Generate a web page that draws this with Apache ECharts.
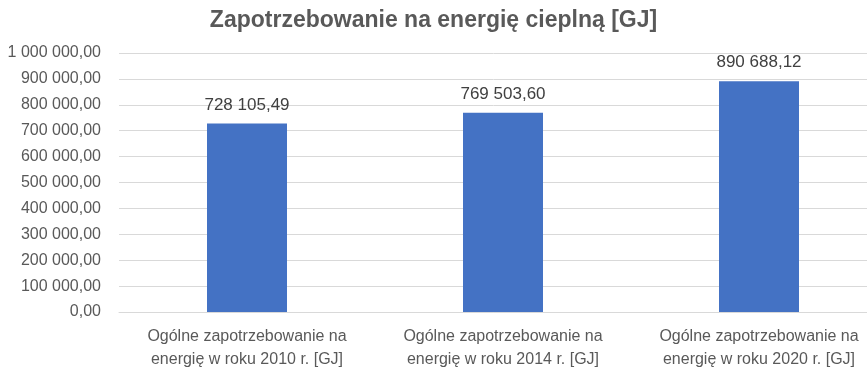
<!DOCTYPE html>
<html><head><meta charset="utf-8">
<script src="https://cdn.jsdelivr.net/npm/echarts@6/dist/echarts.min.js"></script>
<style>html,body{margin:0;padding:0;background:#fff}#c{width:867px;height:368px}</style>
</head><body><div id="c"></div>
<script>
const categories = [
  "Ogólne zapotrzebowanie na energię w roku 2010 r. [GJ]",
  "Ogólne zapotrzebowanie na energię w roku 2014 r. [GJ]",
  "Ogólne zapotrzebowanie na energię w roku 2020 r. [GJ]"
];
const values = [728105.49, 769503.60, 890688.12];
const yTicks = [0, 100000, 200000, 300000, 400000, 500000, 600000, 700000, 800000, 900000, 1000000];

const FONT = "'Liberation Sans Narrow', 'Liberation Sans', sans-serif";
function fmt(v) {
  const parts = v.toFixed(2).split('.');
  const intPart = parts[0].replace(/\B(?=(\d{3})+(?!\d))/g, ' ');
  return intPart + ',' + parts[1];
}
const chart = echarts.init(document.getElementById('c'));
chart.setOption({
  animation: false,
  title: {
    text: 'Zapotrzebowanie na energię cieplną [GJ]',
    left: 'center', top: 4,
    textStyle: { fontFamily: FONT, fontSize: 23, fontWeight: 'bold', color: '#595959' }
  },
  grid: { left: 119, width: 768, top: 53, bottom: 56, containLabel: false, outerBoundsMode: 'none' },
  xAxis: {
    type: 'category', data: categories,
    axisLine: { lineStyle: { color: '#d9d9d9' } },
    axisTick: { show: false },
    axisLabel: {
      interval: 0,
      fontFamily: FONT, fontSize: 16, color: '#595959', lineHeight: 23, margin: 13,
      formatter: s => s.replace(' energię', '\nenergię')
    }
  },
  yAxis: {
    type: 'value', min: yTicks[0], max: yTicks[yTicks.length - 1], interval: yTicks[1] - yTicks[0],
    axisLine: { show: false }, axisTick: { show: false },
    splitLine: { lineStyle: { color: '#d9d9d9' } },
    axisLabel: { fontFamily: FONT, fontSize: 16, color: '#595959', margin: 18, formatter: v => fmt(v) }
  },
  series: [{
    type: 'bar', data: values, barWidth: 80,
    itemStyle: { color: '#4472c4' },
    label: { show: true, position: 'top', distance: 10, fontFamily: FONT, fontSize: 17, color: '#404040', formatter: p => fmt(p.value) }
  }]
});
</script></body></html>
